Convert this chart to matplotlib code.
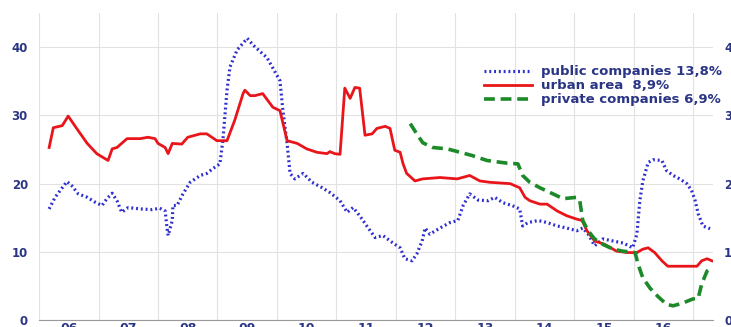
import numpy as np
import matplotlib
matplotlib.use("Agg")
import matplotlib.pyplot as plt
from matplotlib.ticker import FixedLocator

# decimal years and values
urban_x = [2006.17, 2006.24, 2006.39, 2006.49, 2006.64, 2006.81, 2006.97, 2007.16, 2007.23, 2007.31,
           2007.48, 2007.70, 2007.83, 2007.95, 2008.00, 2008.12, 2008.17, 2008.24, 2008.40, 2008.50,
           2008.71, 2008.82, 2008.99, 2009.16, 2009.29, 2009.43, 2009.46, 2009.55, 2009.63, 2009.76,
           2009.93, 2010.05, 2010.17, 2010.34, 2010.50, 2010.67, 2010.84, 2010.89, 2010.97, 2011.06,
           2011.14, 2011.23, 2011.31, 2011.39, 2011.48, 2011.60, 2011.68, 2011.82, 2011.90, 2011.98,
           2012.07, 2012.12, 2012.18, 2012.32, 2012.45, 2012.74, 2013.03, 2013.24, 2013.41, 2013.58,
           2013.75, 2013.92, 2014.08, 2014.17, 2014.25, 2014.42, 2014.54, 2014.71, 2014.87, 2015.04,
           2015.13, 2015.21, 2015.34, 2015.51, 2015.71, 2015.90, 2016.05, 2016.15, 2016.24, 2016.35,
           2016.47, 2016.57, 2016.77, 2016.94, 2017.06, 2017.14, 2017.23, 2017.31]
urban_y = [25.3, 28.2, 28.5, 29.9, 28.0, 25.9, 24.4, 23.4, 25.1, 25.3,
           26.6, 26.6, 26.8, 26.6, 25.9, 25.3, 24.4, 25.9, 25.8, 26.8,
           27.3, 27.3, 26.3, 26.3, 29.3, 33.2, 33.7, 32.9, 32.9, 33.2,
           31.2, 30.7, 26.3, 25.9, 25.1, 24.6, 24.4, 24.7, 24.4, 24.3,
           34.0, 32.5, 34.1, 34.0, 27.1, 27.3, 28.1, 28.4, 28.1, 24.9,
           24.6, 22.9, 21.5, 20.4, 20.7, 20.9, 20.7, 21.2, 20.4, 20.2,
           20.1, 20.0, 19.4, 18.0, 17.5, 17.0, 17.0, 16.0, 15.3, 14.8,
           14.6, 13.1, 11.6, 11.1, 10.1, 9.9, 9.9, 10.4, 10.6, 9.9,
           8.7, 7.9, 7.9, 7.9, 7.9, 8.7, 9.0, 8.7]

public_x = [2006.17, 2006.27, 2006.39, 2006.47, 2006.55, 2006.66, 2006.81, 2006.94, 2007.06, 2007.14,
            2007.23, 2007.31, 2007.39, 2007.50, 2007.70, 2007.90, 2008.03, 2008.12, 2008.15, 2008.17,
            2008.24, 2008.25, 2008.32, 2008.42, 2008.54, 2008.71, 2008.82, 2008.92, 2009.04, 2009.09,
            2009.16, 2009.21, 2009.33, 2009.50, 2009.60, 2009.75, 2009.83, 2009.92, 2010.05, 2010.10,
            2010.17, 2010.22, 2010.30, 2010.44, 2010.59, 2010.76, 2010.89, 2011.06, 2011.18, 2011.28,
            2011.39, 2011.51, 2011.65, 2011.78, 2011.95, 2012.07, 2012.15, 2012.27, 2012.35, 2012.44,
            2012.49, 2012.57, 2012.74, 2012.91, 2013.04, 2013.13, 2013.24, 2013.38, 2013.55, 2013.66,
            2013.80, 2013.95, 2014.08, 2014.13, 2014.22, 2014.39, 2014.54, 2014.71, 2014.87, 2015.04,
            2015.14, 2015.23, 2015.34, 2015.48, 2015.65, 2015.82, 2015.98, 2016.05, 2016.10, 2016.15,
            2016.24, 2016.32, 2016.47, 2016.55, 2016.66, 2016.77, 2016.89, 2016.97, 2017.03, 2017.08,
            2017.16, 2017.28]
public_y = [16.3, 18.0, 19.4, 20.3, 19.7, 18.5, 18.0, 17.3, 16.8, 17.8,
            18.6, 17.5, 15.8, 16.5, 16.3, 16.2, 16.4, 16.0, 13.6, 12.4,
            14.6, 16.8, 16.8, 18.5, 20.2, 21.2, 21.5, 22.2, 22.9, 26.3,
            33.7, 37.1, 39.6, 41.3, 40.3, 39.1, 38.5, 37.1, 35.1, 30.7,
            25.9, 21.5, 20.7, 21.5, 20.2, 19.4, 18.7, 17.5, 15.8, 16.5,
            15.3, 13.8, 12.1, 12.4, 11.3, 10.6, 9.0, 8.7, 9.7, 11.6,
            13.5, 12.6, 13.5, 14.3, 14.6, 16.8, 18.5, 17.6, 17.5, 18.0,
            17.2, 16.8, 16.3, 13.8, 14.3, 14.6, 14.3, 13.8, 13.5, 13.1,
            13.5, 12.6, 10.9, 11.9, 11.6, 11.3, 10.6, 12.6, 17.5, 20.4,
            23.1, 23.5, 23.4, 21.9, 21.2, 20.7, 20.0, 19.0, 17.5, 15.6,
            13.8, 13.4]

private_x = [2012.24, 2012.35, 2012.45, 2012.62, 2012.86, 2013.08, 2013.29, 2013.53, 2013.87, 2014.05,
             2014.13, 2014.25, 2014.42, 2014.64, 2014.81, 2015.04, 2015.09, 2015.14, 2015.23, 2015.34,
             2015.48, 2015.65, 2015.82, 2016.02, 2016.07, 2016.15, 2016.27, 2016.40, 2016.55, 2016.66,
             2016.82, 2016.99, 2017.08, 2017.14, 2017.23, 2017.28]
private_y = [28.8, 27.3, 26.0, 25.3, 25.1, 24.6, 24.1, 23.4, 23.0, 22.9,
             21.2, 20.2, 19.4, 18.5, 17.8, 18.0, 17.5, 14.6, 13.1, 11.9,
             11.1, 10.4, 10.1, 9.9, 8.2, 6.2, 4.7, 3.5, 2.3, 2.1,
             2.5, 3.1, 3.2, 5.3, 7.2, 7.5]

labels = ["public companies 13,8%", "urban area  8,9%", "private companies 6,9%"]
year_labels = ["06", "07", "08", "09", "10", "11", "12", "13", "14", "15", "16"]
left_ticks = [0, 10, 20, 30, 40]

navy = "#2b3585"

fig = plt.figure(figsize=(7.31, 3.27), dpi=100)
ax = fig.add_axes([0.0534, 0.021, 0.922, 0.939])

ax.plot(public_x, public_y, color="#2f2fd0", lw=2.3, ls=(0, (0.6, 0.9)),
        dash_capstyle="butt", label=labels[0])
ax.plot(urban_x, urban_y, color="#e8161b", lw=2.0, label=labels[1])
ax.plot(private_x, private_y, color="#1d8a2a", lw=2.6, ls=(0, (3, 1.6)), label=labels[2])

ax.set_xlim(2006, 2017.33)
ax.set_ylim(0, 45)

years = np.arange(2006, 2018)
ax.xaxis.set_major_locator(FixedLocator(years))
ax.xaxis.set_minor_locator(FixedLocator(years[:-1] + 0.5))
ax.set_xticklabels([], minor=False)
ax.set_xticklabels(year_labels, minor=True)
ax.tick_params(axis="x", which="both", length=0, pad=1, labelsize=9, labelcolor=navy)
ax.set_yticks(left_ticks)
ax.set_yticklabels([str(t) for t in left_ticks])
ax.tick_params(axis="y", length=0, pad=8, labelsize=8.5, labelcolor=navy)
for lbl in ax.get_xticklabels(minor=True) + ax.get_yticklabels():
    lbl.set_fontweight("bold")

ax.grid(True, which="major", color="#e2e2e2", lw=0.8)
ax.set_axisbelow(True)
for side in ["top", "right", "left"]:
    ax.spines[side].set_visible(False)
ax.spines["bottom"].set_color("#9a9a9a")

sec = ax.secondary_yaxis("right", functions=(lambda v: v / 10, lambda v: v * 10))
sec.set_yticks([0, 1, 2, 3, 4])
sec.tick_params(length=0, pad=8, labelsize=8.5, labelcolor=navy)
sec.spines["right"].set_visible(False)
for lbl in sec.get_yticklabels():
    lbl.set_fontweight("bold")

leg = ax.legend(loc="upper right", bbox_to_anchor=(1.013, 0.83), frameon=False,
                fontsize=9.5, handlelength=3.6, handletextpad=0.7, labelspacing=0.08,
                borderpad=0.0, borderaxespad=0.0)
for t in leg.get_texts():
    t.set_color(navy)
    t.set_fontweight("bold")

fig.savefig("out.png", dpi=100)
